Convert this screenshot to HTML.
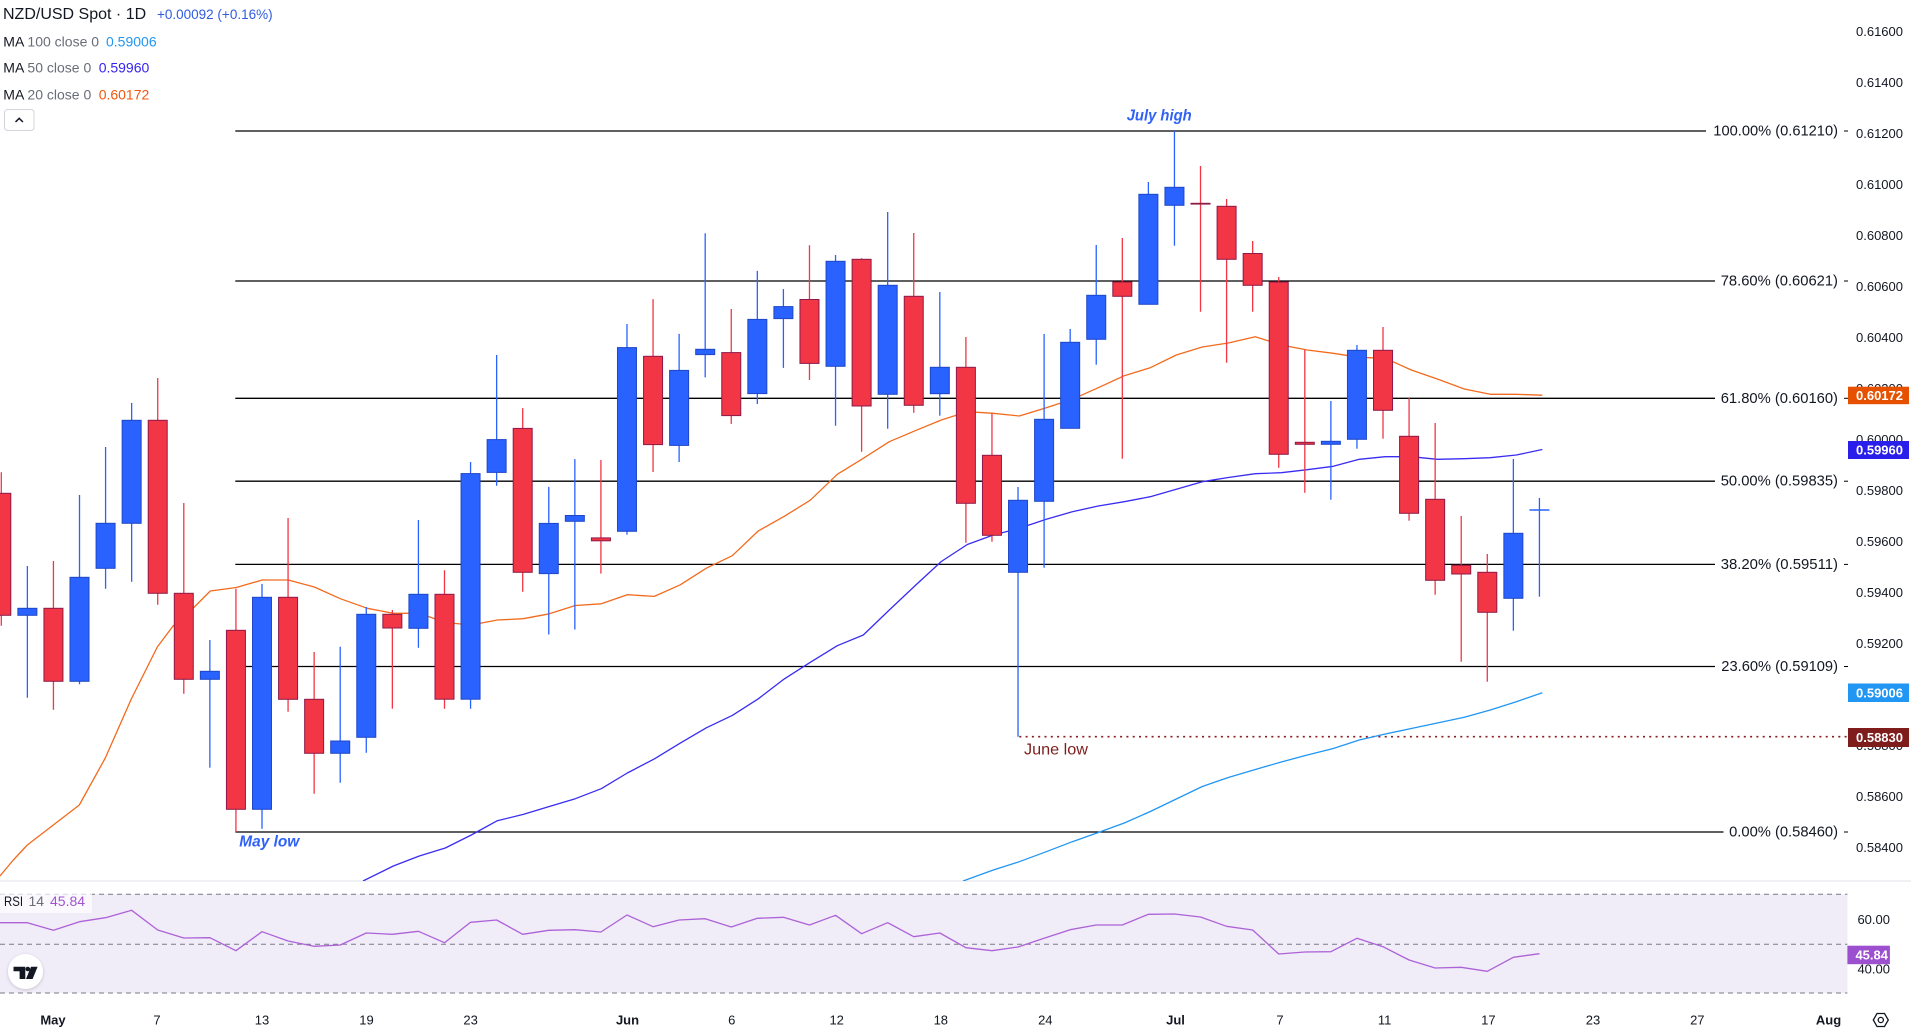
<!DOCTYPE html>
<html><head><meta charset="utf-8">
<style>
html,body{margin:0;padding:0;background:#fff;}
svg{display:block;font-family:"Liberation Sans",Arial,sans-serif;}
</style></head>
<body>
<svg id="c" width="1911" height="1029" viewBox="0 0 1911 1029" xmlns="http://www.w3.org/2000/svg">
<defs>
<clipPath id="mainclip"><rect x="0" y="0" width="1848" height="881"/></clipPath>
<filter id="sh" x="-50%" y="-50%" width="200%" height="200%"><feDropShadow dx="0" dy="1" stdDeviation="1.5" flood-color="#000" flood-opacity="0.18"/></filter>
</defs>
<rect x="0" y="0" width="1911" height="1029" fill="#fff"/>
<!-- RSI pane -->
<line x1="0" y1="881" x2="1911" y2="881" stroke="#e0e3eb" stroke-width="1"/>
<rect x="0" y="894.3" width="1847.4" height="98.7" fill="#f0ecf8"/>
<g stroke="#787b86" stroke-width="1" stroke-dasharray="5,4">
<line x1="0" y1="894.3" x2="1847.4" y2="894.3"/>
<line x1="0" y1="944.3" x2="1847.4" y2="944.3"/>
<line x1="0" y1="993" x2="1847.4" y2="993"/>
</g>
<!-- fib lines -->
<g stroke="#000" stroke-width="1.3">
<line x1="235.3" y1="131" x2="1706" y2="131"/>
<line x1="235.3" y1="281" x2="1715" y2="281"/>
<line x1="235.3" y1="398.3" x2="1715" y2="398.3"/>
<line x1="235.3" y1="481.2" x2="1715" y2="481.2"/>
<line x1="235.3" y1="564.4" x2="1715" y2="564.4"/>
<line x1="235.3" y1="666.5" x2="1715" y2="666.5"/>
<line x1="235.3" y1="832" x2="1723.5" y2="832"/>
</g>
<g stroke="#000" stroke-width="1">
<line x1="1844" y1="131" x2="1848" y2="131"/>
<line x1="1844" y1="281" x2="1848" y2="281"/>
<line x1="1844" y1="398.3" x2="1848" y2="398.3"/>
<line x1="1844" y1="481.2" x2="1848" y2="481.2"/>
<line x1="1844" y1="564.4" x2="1848" y2="564.4"/>
<line x1="1844" y1="666.5" x2="1848" y2="666.5"/>
<line x1="1844" y1="832" x2="1848" y2="832"/>
</g>
<!-- June low dotted -->
<line x1="1019.3" y1="736.7" x2="1848" y2="736.7" stroke="#8b1a1a" stroke-width="1.6" stroke-dasharray="2,4.3"/>
<g id="mas" clip-path="url(#mainclip)" fill="none" stroke-width="1.3" stroke-linejoin="round"></g>
<g id="rsi" fill="none" stroke="#ad62d8" stroke-width="1.3" stroke-linejoin="round"></g>
<g id="candles"></g>

<!-- header -->
<text x="3" y="14.5" font-size="16" fill="#131722" dominant-baseline="central">NZD/USD Spot · 1D</text>
<text x="157" y="14.5" font-size="13.5" fill="#2f5be0" dominant-baseline="central">+0.00092 (+0.16%)</text>
<text x="3.3" y="41.7" font-size="14" dominant-baseline="central"><tspan fill="#131722">MA</tspan><tspan fill="#6a6d78"> 100 close 0</tspan></text>
<text x="106" y="41.7" font-size="14" fill="#2196f3" dominant-baseline="central">0.59006</text>
<text x="3.3" y="67.7" font-size="14" dominant-baseline="central"><tspan fill="#131722">MA</tspan><tspan fill="#6a6d78"> 50 close 0</tspan></text>
<text x="98.7" y="67.7" font-size="14" fill="#3524f0" dominant-baseline="central">0.59960</text>
<text x="3.3" y="94.3" font-size="14" dominant-baseline="central"><tspan fill="#131722">MA</tspan><tspan fill="#6a6d78"> 20 close 0</tspan></text>
<text x="98.7" y="94.3" font-size="14" fill="#f0570e" dominant-baseline="central">0.60172</text>
<rect x="4.5" y="109.5" width="29.5" height="21" rx="3" fill="#fff" stroke="#d1d4dc" stroke-width="1"/>
<polyline points="15.5,122 19.2,118.3 22.9,122" fill="none" stroke="#131722" stroke-width="1.5"/>

<!-- annotations -->
<text x="1126.7" y="116" font-size="16" font-style="italic" font-weight="bold" fill="#2f62f5" dominant-baseline="central" textLength="65" lengthAdjust="spacingAndGlyphs">July high</text>
<text x="239.3" y="842" font-size="16" font-style="italic" font-weight="bold" fill="#2f62f5" dominant-baseline="central" textLength="60" lengthAdjust="spacingAndGlyphs">May low</text>
<text x="1024" y="750" font-size="16" fill="#7f1d1d" dominant-baseline="central" textLength="64" lengthAdjust="spacingAndGlyphs">June low</text>

<!-- fib labels -->
<g font-size="15" fill="#131722" dominant-baseline="central">
<text x="1713.3" y="131" textLength="124.7" lengthAdjust="spacingAndGlyphs">100.00% (0.61210)</text>
<text x="1720.7" y="281" textLength="117.3" lengthAdjust="spacingAndGlyphs">78.60% (0.60621)</text>
<text x="1720.7" y="398.3" textLength="117.3" lengthAdjust="spacingAndGlyphs">61.80% (0.60160)</text>
<text x="1720.7" y="481.2" textLength="117.3" lengthAdjust="spacingAndGlyphs">50.00% (0.59835)</text>
<text x="1720.7" y="564.4" textLength="117.3" lengthAdjust="spacingAndGlyphs">38.20% (0.59511)</text>
<text x="1721.3" y="666.5" textLength="116.7" lengthAdjust="spacingAndGlyphs">23.60% (0.59109)</text>
<text x="1729.1" y="832" textLength="108.9" lengthAdjust="spacingAndGlyphs">0.00% (0.58460)</text>
</g>

<!-- price axis -->
<g font-size="13" fill="#131722" text-anchor="end" dominant-baseline="central">
<text x="1903" y="31.5">0.61600</text>
<text x="1903" y="82.5">0.61400</text>
<text x="1903" y="133.3">0.61200</text>
<text x="1903" y="184.3">0.61000</text>
<text x="1903" y="235.3">0.60800</text>
<text x="1903" y="286.3">0.60600</text>
<text x="1903" y="337.3">0.60400</text>
<text x="1903" y="388.3">0.60200</text>
<text x="1903" y="439.3">0.60000</text>
<text x="1903" y="490.3">0.59800</text>
<text x="1903" y="541.3">0.59600</text>
<text x="1903" y="592.3">0.59400</text>
<text x="1903" y="643.3">0.59200</text>
<text x="1903" y="694.3">0.59000</text>
<text x="1903" y="745.3">0.58800</text>
<text x="1903" y="796.3">0.58600</text>
<text x="1903" y="847.3">0.58400</text>
<text x="1890" y="919.5">60.00</text>
<text x="1890" y="969">40.00</text>
</g>
<!-- badges -->
<rect x="1848" y="386.7" width="61" height="17.5" fill="#e65100"/>
<text x="1903" y="395.5" font-size="13" font-weight="bold" fill="#fff" text-anchor="end" dominant-baseline="central">0.60172</text>
<rect x="1848" y="441" width="61" height="18" fill="#2a1fea"/>
<text x="1903" y="450" font-size="13" font-weight="bold" fill="#fff" text-anchor="end" dominant-baseline="central">0.59960</text>
<rect x="1848" y="683.5" width="61" height="18.5" fill="#2196f3"/>
<text x="1903" y="692.8" font-size="13" font-weight="bold" fill="#fff" text-anchor="end" dominant-baseline="central">0.59006</text>
<rect x="1848" y="728" width="61" height="19" fill="#7f1d1d"/>
<text x="1903" y="737.6" font-size="13" font-weight="bold" fill="#fff" text-anchor="end" dominant-baseline="central">0.58830</text>
<rect x="1847.4" y="945.7" width="42.5" height="18.5" fill="#9c4fcf"/>
<text x="1888" y="955" font-size="13" font-weight="bold" fill="#fff" text-anchor="end" dominant-baseline="central">45.84</text>

<!-- RSI label -->
<rect x="0" y="893" width="92" height="20" fill="#fff" fill-opacity="0.7"/>
<text x="4" y="901" font-size="14" dominant-baseline="central"><tspan fill="#131722" textLength="19" lengthAdjust="spacingAndGlyphs">RSI</tspan><tspan fill="#6a6d78" x="28.5">14</tspan><tspan fill="#a054d4" x="50">45.84</tspan></text>

<!-- TV logo -->
<circle cx="25.5" cy="971.5" r="17.5" fill="#fff" filter="url(#sh)"/>
<path d="M13.5,966.7 H25.3 V979 H19.6 V971.3 H13.5 Z" fill="#131722"/>
<circle cx="27.8" cy="969" r="2.3" fill="#131722"/>
<path d="M31,966.7 H37.6 L32.6,979 H26 Z" fill="#131722"/>

<!-- time axis -->
<g font-size="13" fill="#131722" text-anchor="middle" dominant-baseline="central">
<text x="53" y="1020" font-weight="bold">May</text>
<text x="157" y="1020">7</text>
<text x="262" y="1020">13</text>
<text x="366.5" y="1020">19</text>
<text x="470.6" y="1020">23</text>
<text x="627.5" y="1020" font-weight="bold">Jun</text>
<text x="731.8" y="1020">6</text>
<text x="836.7" y="1020">12</text>
<text x="940.8" y="1020">18</text>
<text x="1045.3" y="1020">24</text>
<text x="1175.5" y="1020" font-weight="bold">Jul</text>
<text x="1280" y="1020">7</text>
<text x="1384.6" y="1020">11</text>
<text x="1488.4" y="1020">17</text>
<text x="1593" y="1020">23</text>
<text x="1697.3" y="1020">27</text>
<text x="1828.5" y="1020" font-weight="bold">Aug</text>
</g>
<polygon points="1873.3,1020 1877,1013.5 1884.5,1013.5 1888.3,1020 1884.5,1026.5 1877,1026.5" fill="none" stroke="#131722" stroke-width="1.3"/>
<circle cx="1880.8" cy="1020" r="2.6" fill="none" stroke="#131722" stroke-width="1.3"/>
</svg>
<script>
(function(){
var NS="http://www.w3.org/2000/svg";
function el(n,a,p){var e=document.createElementNS(NS,n);for(var k in a)e.setAttribute(k,a[k]);p.appendChild(e);return e;}
var C=[
["R",493.3,615.3,472.3,625.7],["B",608.3,615.3,566,697.7],["R",608.3,681.3,561,709.7],["B",577.3,681.3,495,684.3],
["B",523.3,568.3,447,588.7],["B",420.3,523.3,403,581.7],["R",420.3,593.3,378,604.7],["R",593.3,679.3,503,693.7],
["B",671.3,679.3,640,767.7],["R",630.3,809.3,588.7,832.3],["B",597.3,809.3,584,828.7],["R",597.3,699.3,518,711.7],
["R",699.3,753.3,652,793.7],["B",741,753.3,646.7,782.7],["B",614.3,737.3,607,752.7],["R",614.3,628,610,708.7],
["B",594.3,628.3,520,647.8],["R",594.3,699.2,570.2,708.7],["B",473.6,699.2,462,708.7],["B",439.6,472.4,355,485.7],
["R",428.4,572.3,408.1,591.8],["B",523.4,573.6,486.9,634.5],["B",515.5,521.3,459.1,629.5],["R",537.9,540.8,460,573.6],
["B",347.6,531.3,324,534.6],["R",356.3,444.6,299.1,472],["B",370.4,445.4,333.9,462],["B",349.3,354.6,233.2,377.4],
["R",352.6,415.6,309,423.9],["B",319.4,393.6,270.9,404],["B",306.6,318.6,289.1,367.9],["R",299.5,363.4,245.2,380],
["B",261.3,366.3,255,425.7],["R",259.3,406,258.3,451.7],["B",285.3,394.3,212,428.7],["R",296.3,405.3,233,412.7],
["B",367.3,393.7,292,415.7],["R",367.3,503.3,337,542.7],["R",455.3,535.3,413.3,541.7],["B",500.3,572.3,487,736.7],
["B",419.3,501.3,334,567.7],["B",342.3,428.3,329,428.3],["B",295.3,339.3,245,364.7],["R",282,296.3,238,458.7],
["B",194.3,304.3,182,304.3],["B",187.3,205.3,131,245.7],["D",202.8,204.6,166,311.7],["R",206.3,259.3,199,362.7],
["R",253.5,285.3,241,311.7],["R",282,454.3,277,467.7],["R",442.3,444.3,350,492.7],["B",441.3,444.3,401,499.7],
["B",350.3,439.3,345,448.7],["R",350.3,410.3,327,438.7],["R",436.3,513.3,398,520.7],["R",499.3,580.3,423,594.7],
["R",565.3,574,516,661.7],["R",572.3,612.3,554,681.7],["B",533.3,598.3,459,630.7],["X",510,510,498,596.7]
];
var g=document.getElementById("candles");
for(var i=0;i<C.length;i++){
 var c=C[i],x=1.3+26.07*i;
 var red=(c[0]=="R"||c[0]=="D");
 var wc=red?"#f23645":"#2962ff";
 el("line",{x1:x,y1:c[3],x2:x,y2:c[4],stroke:wc,"stroke-width":1.3},g);
 if(c[0]=="D"){el("rect",{x:x-10,y:c[1],width:20,height:c[2]-c[1],fill:"#8e1a48"},g);}
 else if(c[0]=="X"){el("line",{x1:x-10,y1:c[1],x2:x+10,y2:c[1],stroke:"#2962ff","stroke-width":1.5},g);}
 else{
  var h=Math.max(c[2]-c[1],2);
  el("rect",{x:x-9.5,y:c[1],width:19,height:h,fill:red?"#f23645":"#2962ff",stroke:red?"#8e1a48":"#1f47c7","stroke-width":1},g);
 }
}
function pts(a){return a.map(function(p){return p[0]+","+p[1];}).join(" ");}
var m=document.getElementById("mas");
var ma20=[[0,876],[13.3,860],[27.3,845],[53.3,825],[79.3,805],[105.3,758],[131.3,699],[157.3,647],[173.3,625.7],[184.3,617],[210.3,591],[236.3,587.5],[262.3,580],[288.3,580],[314.3,587],[340.3,598.7],[367.3,608.3],[393.3,613.3],[419.3,613.3],[445.3,622.5],[471.3,625],[497.3,620],[523.3,618.7],[549.3,613.8],[575.3,605.5],[601.3,603.8],[627.3,594.7],[654.3,596.4],[680.3,584.8],[706.3,568.2],[732.3,555.7],[758.3,530.9],[784.3,516.3],[810.3,500.2],[837.3,474.3],[863.3,458.3],[889.3,441.7],[915.3,430.7],[941.3,420],[967.3,411.7],[993.3,413.3],[1019.3,416],[1046.3,407.7],[1072.3,399.3],[1098.3,387.7],[1124.3,375.7],[1150.3,367.7],[1176.3,355],[1202.3,347],[1228.3,343],[1255.3,336.7],[1281.3,345],[1307.3,350],[1333.3,353.3],[1359.3,357.3],[1385.3,358.3],[1411.3,370],[1437.3,379],[1464.3,389],[1490.3,394.3],[1516.3,394.3],[1542.3,395.2]];
var ma50=[[363,881],[393.3,866],[419.3,856],[445.3,848],[471.3,835],[497.3,820.7],[523.3,814.4],[549.3,806.5],[575.3,798.7],[601.3,788.7],[627.3,773],[654.3,758.9],[680.3,743.1],[706.3,727.8],[732.3,715.4],[758.3,698.8],[784.3,678.9],[810.3,662.3],[837.3,645.7],[863.3,635],[889.3,610],[915.3,585.5],[941.3,561.5],[967.3,544.5],[993.3,535],[1019.3,528.3],[1046.3,519.3],[1072.3,511.7],[1098.3,506],[1124.3,501.7],[1150.3,496.7],[1176.3,489.3],[1202.3,481.7],[1228.3,477.5],[1255.3,473.7],[1281.3,472.7],[1307.3,469.7],[1333.3,466.3],[1359.3,459.3],[1385.3,456.7],[1411.3,456.7],[1437.3,459.3],[1464.3,458.7],[1490.3,457.7],[1516.3,455],[1542.3,449.5]];
var ma100=[[963,881],[993.3,870],[1019.3,861.7],[1046.3,851.7],[1072.3,841.7],[1098.3,832.5],[1124.3,823],[1150.3,811.5],[1176.3,799],[1202.3,786.5],[1228.3,777.5],[1255.3,769.5],[1281.3,762],[1307.3,755],[1333.3,748.5],[1359.3,740],[1385.3,734],[1411.3,728.5],[1437.3,723],[1464.3,717.3],[1490.3,710],[1516.3,701.7],[1542.3,692.8]];
el("polyline",{points:pts(ma100),stroke:"#2196f3"},m);
el("polyline",{points:pts(ma50),stroke:"#3a2cf2"},m);
el("polyline",{points:pts(ma20),stroke:"#f26b1d"},m);
var r=[922.7,922.7,930.3,921.7,917.7,910.3,930,938,937.7,950.7,931.7,941,946.3,945,933,934.3,931.3,942.7,922.3,920,934.3,930.3,929.7,932,915,926.7,920,918.7,927,918.3,917.3,925,915.3,933.7,922.7,936.7,933,947.7,950.7,947,938.3,929.7,925,925,914.3,914,917,926.3,930,954,952,951.7,938.3,946.7,960,968,967.3,971.3,957.3,953.7];
var rp=[[0,922.7]];for(var j=0;j<r.length;j++)rp.push([1.3+26.07*j,r[j]]);
el("polyline",{points:pts(rp)},document.getElementById("rsi"));
})();
</script>
</body></html>
